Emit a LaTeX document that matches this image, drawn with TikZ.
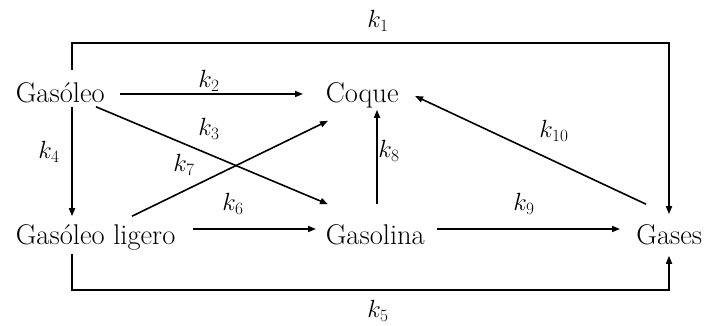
\documentclass[tikz,border=0pt]{standalone}
\usepackage{amsmath}
\usepackage{tikz}
\usetikzlibrary{calc,arrows.meta}

\begin{document}
\begin{tikzpicture}[x=1pt,y=1pt,>={Triangle[length=8pt,width=6pt]},line width=1.6pt,
    especie/.style={inner sep=0pt,font=\fontsize{28.5}{32}\selectfont,text height=18pt,text depth=6pt},
    tasa/.style={inner sep=0pt,font=\fontsize{23}{27}\selectfont}]
    \useasboundingbox (0,0) rectangle (704,326);

    % especies
    \node[especie,anchor=base west] (gso) at (15,223) {Gasóleo};
    \node[especie,anchor=base west] (cq) at (325,223) {Coque};
    \node[especie,anchor=base west] (gl) at (15,81) {Gasóleo ligero};
    \node[especie,anchor=base west] (gsl) at (325,81) {Gasolina};
    \node[especie,anchor=base east] (gas) at (703,81) {Gases};

    % lazo superior y lazo inferior
    \draw[->] ([shift={(57,14)}]gso.north west) -- ++(0,27) -| ([shift={(-34,12)}]gas.north east);
    \draw[->] ([shift={(57,-2)}]gl.south west) -- ++(0,-36) -| ([shift={(-34,-4)}]gas.south east);

    % reacciones
    \draw[->] ([shift={(105,3)}]gso.west) -- ([shift={(-22,3)}]cq.west);
    \draw[->] ([shift={(81,3)}]gso.south west) -- ([shift={(3,22)}]gsl.north west);
    \draw[->] ([shift={(57,3)}]gso.south west) -- ([shift={(57,10)}]gl.north west);
    \draw[->] ([shift={(117,10)}]gl.north west) -- ([shift={(3,-11)}]cq.south west);
    \draw[->] ([shift={(52,22)}]gsl.north west) -- ([shift={(52,0)}]cq.south west);
    \draw[->] ([shift={(178,10)}]gl.west) -- ([shift={(-9,10)}]gsl.west);
    \draw[->] ([shift={(112,10)}]gsl.west) -- ([shift={(-83,10)}]gas.east);
    \draw[->] ([shift={(-57,22)}]gas.north east) -- ([shift={(90,1)}]cq.west);

    % constantes
    \node[tasa] (t1) at (378,305) {$k_1$};
    \node[tasa] (t2) at (209,245) {$k_2$};
    \node[tasa] (t3) at (209,197) {$k_3$};
    \node[tasa] (t4) at (49,174) {$k_4$};
    \node[tasa] (t5) at (378,15) {$k_5$};
    \node[tasa] (t6) at (233,122) {$k_6$};
    \node[tasa] (t7) at (184,161) {$k_7$};
    \node[tasa] (t8) at (389,175) {$k_8$};
    \node[tasa] (t9) at (524,122) {$k_9$};
    \node[tasa] (t10) at (554,195) {$k_{10}$};
\end{tikzpicture}
\end{document}
